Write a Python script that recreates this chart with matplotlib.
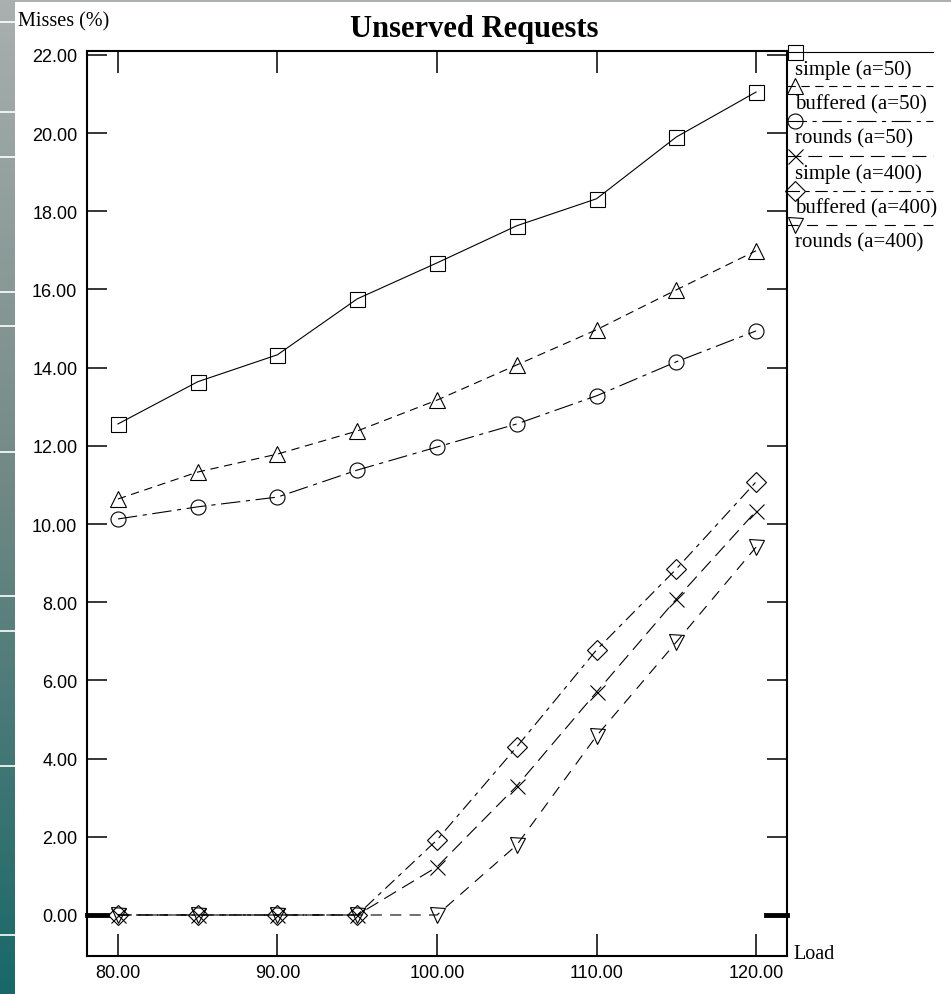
import matplotlib.pyplot as plt
import matplotlib.colors as mcolors
import numpy as np

plt.rcParams['lines.scale_dashes'] = False

# data
load = [80, 85, 90, 95, 100, 105, 110, 115, 120]
simple_50 = [12.56, 13.64, 14.33, 15.76, 16.68, 17.63, 18.32, 19.9, 21.05]
buffered_50 = [10.64, 11.33, 11.79, 12.38, 13.17, 14.07, 14.97, 15.99, 16.99]
rounds_50 = [10.13, 10.44, 10.69, 11.38, 11.97, 12.56, 13.28, 14.15, 14.94]
simple_400 = [0, 0, 0, 0, 1.23, 3.30, 5.70, 8.08, 10.33]
buffered_400 = [0, 0, 0, 0, 1.92, 4.30, 6.78, 8.85, 11.08]
rounds_400 = [0, 0, 0, 0, 0, 1.79, 4.58, 6.98, 9.41]

names = ['simple (a=50)', 'buffered (a=50)', 'rounds (a=50)',
         'simple (a=400)', 'buffered (a=400)', 'rounds (a=400)']
series = [simple_50, buffered_50, rounds_50, simple_400, buffered_400, rounds_400]
markers = ['s', '^', 'o', 'x', 'D', 'v']
msizes = [10.8, 11.5, 10.8, 10.8, 9.7, 10.8]
styles = ['-', (0, (6, 4)), (0, (14, 4, 3, 4)), (0, (10, 5)),
          (0, (9, 4, 3, 4)), (0, (8, 6))]

yticks = np.arange(0, 23, 2)
xticks = [80, 90, 100, 110, 120]

W, H = 951, 995
fig = plt.figure(figsize=(W / 100, H / 100), dpi=100)
fig.patch.set_facecolor('white')

# slide decoration: gradient strip on the left, grey band on top
strip = fig.add_axes([0, 0, 15 / W, 1])
cmap = mcolors.LinearSegmentedColormap.from_list('s', ['#aab0af', '#6f8884', '#186868'])
strip.imshow(np.linspace(0, 1, 256).reshape(-1, 1), aspect='auto', cmap=cmap,
             extent=[0, 1, H, 0])
for yy in [23, 113, 158, 293, 327, 453, 597, 632, 767, 936]:
    strip.axhline(yy, color='white', lw=1.2)
strip.set_xlim(0, 1)
strip.set_ylim(H, 0)
strip.axis('off')
band = fig.add_axes([0, 1 - 3 / H, 1, 3 / H])
band.set_facecolor('#aab0af')
band.set_xticks([])
band.set_yticks([])
for s in band.spines.values():
    s.set_visible(False)

ax = fig.add_axes([87 / W, 1 - 957 / H, 700 / W, 905 / H])
for ys, mk, ms, ls in zip(series, markers, msizes, styles):
    ax.plot(load, ys, color='black', lw=0.8, linestyle=ls, marker=mk, ms=ms,
            mfc='none', mec='black', mew=0.8, clip_on=False)

ax.set_xlim(78.06, 121.94)
ax.set_ylim(-1.049, 22.10)
ax.set_yticks(yticks)
ax.set_yticklabels(['%.2f' % v for v in yticks])
ax.set_xticks(xticks)
ax.set_xticklabels(['%.2f' % v for v in xticks])
ax.tick_params(axis='y', direction='in', left=True, right=True, length=14.4,
               width=1.1, pad=7, labelsize=13)
ax.tick_params(axis='x', direction='in', top=True, bottom=True, length=16,
               width=1.1, pad=6, labelsize=13)
for lab in ax.get_xticklabels() + ax.get_yticklabels():
    lab.set_fontfamily('Liberation Sans')
for s in ax.spines.values():
    s.set_linewidth(1.5)

# bold marks at zero on both sides
bt = ax.get_yaxis_transform()
ax.plot([0, 20 / 700], [0, 0], color='black', lw=3.5, transform=bt, clip_on=False)
ax.plot([1 - 21 / 700, 1], [0, 0], color='black', lw=3.5, transform=bt, clip_on=False)

fig.text(474 / W, 1 - 29 / H, 'Unserved Requests', ha='center', va='center',
         family='Liberation Serif', weight='bold', fontsize=22)
fig.text(18 / W, 1 - 22 / H, 'Misses (%)', ha='left', va='center',
         family='Liberation Serif', fontsize=14.5)
fig.text(793 / W, 1 - 955 / H, 'Load', ha='left', va='center',
         family='Liberation Serif', fontsize=14.5)

# hand-drawn legend to the right of the frame
for i, (name, mk, ms, ls) in enumerate(zip(names, markers, msizes, styles)):
    ly = 52.7 + i * 34.7
    fig.add_artist(plt.Line2D([787 / W, 933 / W], [1 - ly / H, 1 - ly / H],
                              color='black', lw=0.8, linestyle=ls))
    fig.add_artist(plt.Line2D([795 / W], [1 - ly / H], marker=mk, ms=ms,
                              mfc='none', mec='black', mew=0.8, linestyle='none'))
    fig.text(795 / W, 1 - (ly + 17) / H, name, ha='left', va='center',
             family='Liberation Serif', fontsize=15)

fig.savefig('out.png', dpi=100)
